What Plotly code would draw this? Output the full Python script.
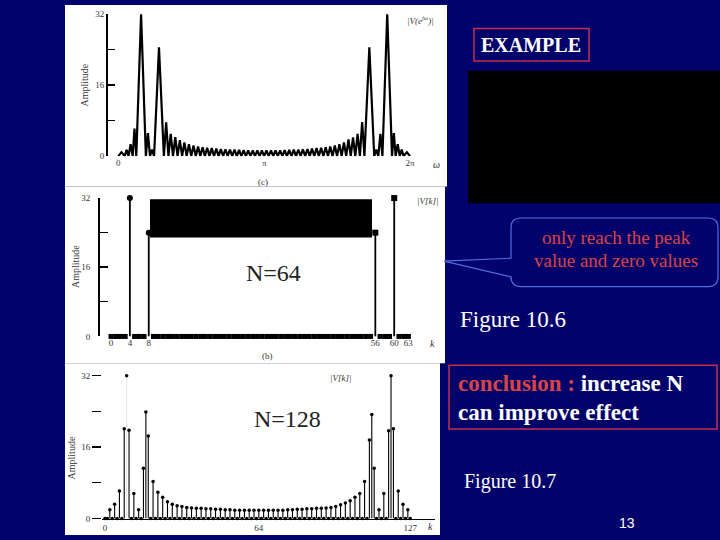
import plotly.graph_objects as go

W, H = 720, 540
def X(px): return px / W
def Y(py): return 1 - py / H

NAVY = "#02026a"
SERIF = "Liberation Serif"

# ---------------- data ----------------
# Panel (c): |V(e^jw)| drawn as lobes; frequency in units of 2*pi/64 (0..64 -> 0..2pi)
dtft_edges = [0, 1.4, 2.25, 3.15, 3.95, 6.05, 6.95, 7.85,
              10, 11, 12, 13, 14, 15, 16, 17, 18, 19, 20, 21, 22, 23, 24, 25, 26, 27,
              28, 29, 30, 31, 32, 33, 34, 35, 36, 37, 38, 39, 40, 41, 42, 43, 44, 45,
              46, 47, 48, 49, 50, 51, 52, 53, 54,
              56.15, 57.05, 57.95, 60.05, 60.85, 61.75, 62.6, 64]
dtft_heights = [0.9, 1.4, 2.7, 6.2, 32, 5.2, 1.5, 24.5,
                7.6, 5.0, 4.3, 3.6, 3.1, 2.7, 2.4, 2.2, 2.0, 1.9, 1.8, 1.7, 1.6, 1.55,
                1.5, 1.45, 1.4, 1.35, 1.3, 1.3, 1.3, 1.3,
                1.3, 1.3, 1.3, 1.3, 1.35, 1.4, 1.45, 1.5, 1.55, 1.6, 1.7, 1.8, 1.9, 2.0,
                2.2, 2.4, 2.7, 3.1, 3.8, 4.2, 5.0, 7.7,
                24.5, 1.5, 5.0, 32, 5.2, 2.7, 1.5, 0.9]
dtft_ticks = [0, 32, 64]
dtft_ticktext = ["0", "π", "2π"]

# Panel (b): 64-point DFT
n64 = 64
v64_peak_k = [4, 8, 56, 60]
v64_peak_val = [32, 24, 24, 32]
v64_ticks = [0, 4, 8, 56, 60, 63]

# Panel: 128-point DFT
v128 = [0, 0, 2.0, 0, 3.2, 0, 6.2, 0, 20.1, 32,
        19.8, 0, 5.6, 0, 2.0, 0, 11.3, 23.9, 18.5, 0,
        8.3, 0, 5.9, 0, 4.8, 0, 3.8, 0, 3.2, 0,
        2.9, 0, 2.7, 0, 2.5, 0, 2.4, 0, 2.3, 0,
        2.3, 0, 2.2, 0, 2.2, 0, 2.1, 0, 2.1, 0,
        2.0, 0, 2.0, 0, 1.9, 0, 1.9, 0, 1.9, 0,
        1.9, 0, 1.9, 0, 1.9, 0, 1.9, 0, 1.9, 0,
        1.9, 0, 1.9, 0, 1.9, 0, 2.0, 0, 2.0, 0,
        2.1, 0, 2.1, 0, 2.2, 0, 2.2, 0, 2.3, 0,
        2.3, 0, 2.4, 0, 2.5, 0, 2.7, 0, 3.1, 0,
        3.5, 0, 4.0, 0, 4.8, 0, 5.6, 0, 8.3, 0,
        17.6, 23.3, 11.3, 0, 2.0, 0, 5.6, 0, 19.7, 32,
        20.1, 0, 6.2, 0, 3.2, 0, 2.0, 0]
v128_ticks = [0, 64, 127]
amp_ticks = [0, 16, 32]

# ---------------- figure ----------------
fig = go.Figure()

# DTFT curve
cx, cy = [], []
for i, h in enumerate(dtft_heights):
    a, b = dtft_edges[i], dtft_edges[i + 1]
    cx += [a, (a + b) / 2]
    cy += [0, h]
cx.append(dtft_edges[-1]); cy.append(0)
fig.add_trace(go.Scatter(x=cx, y=cy, mode="lines", line=dict(color="black", width=2.2),
                         xaxis="x", yaxis="y", cliponaxis=False, hoverinfo="skip"))

# 64-point DFT
v64 = [0.0] * n64
for k, v in zip(v64_peak_k, v64_peak_val):
    v64[k] = v
sx, sy = [], []
for k, v in zip(v64_peak_k, v64_peak_val):
    sx += [k, k, None]; sy += [0, v, None]
fig.add_trace(go.Scatter(x=sx, y=sy, mode="lines", line=dict(color="black", width=1.8),
                         xaxis="x2", yaxis="y2", cliponaxis=False, hoverinfo="skip"))
zk = [k for k in range(n64) if v64[k] == 0]
fig.add_trace(go.Scatter(x=zk, y=[v64[k] for k in zk], mode="markers",
                         marker=dict(symbol="square", size=5, color="black"),
                         xaxis="x2", yaxis="y2", cliponaxis=False, hoverinfo="skip"))
fig.add_trace(go.Scatter(x=v64_peak_k, y=v64_peak_val, mode="markers",
                         marker=dict(symbol=["circle", "circle", "square", "square"], size=6, color="black"),
                         xaxis="x2", yaxis="y2", cliponaxis=False, hoverinfo="skip"))

# 128-point DFT
tx, ty = [], []
for k, v in enumerate(v128):
    if v > 0 and k != 9:
        tx += [k, k, None]; ty += [0, v, None]
fig.add_trace(go.Scatter(x=tx, y=ty, mode="lines", line=dict(color="black", width=1.1),
                         xaxis="x3", yaxis="y3", cliponaxis=False, hoverinfo="skip"))
fig.add_trace(go.Scatter(x=[9, 9], y=[0, v128[9]], mode="lines", line=dict(color="#e6e6e6", width=1),
                         xaxis="x3", yaxis="y3", cliponaxis=False, hoverinfo="skip"))
fig.add_trace(go.Scatter(x=list(range(len(v128))), y=v128, mode="markers",
                         marker=dict(symbol="circle", size=3.5, color="black"),
                         xaxis="x3", yaxis="y3", cliponaxis=False, hoverinfo="skip"))

tickfont = dict(family=SERIF, size=9, color="#333333")
common = dict(showgrid=False, zeroline=False, fixedrange=True)

fig.update_layout(
    width=W, height=H, margin=dict(l=0, r=0, t=0, b=0),
    paper_bgcolor=NAVY, plot_bgcolor="rgba(0,0,0,0)", showlegend=False,
    xaxis=dict(domain=[X(108), X(440)], range=[-2.26, 70.58], anchor="y",
               tickvals=dtft_ticks, ticktext=dtft_ticktext, ticks="", showline=False,
               tickfont=tickfont, **common),
    yaxis=dict(domain=[Y(154), Y(9.3)], range=[0, 32], anchor="x",
               showline=True, linecolor="black", linewidth=2,
               ticks="inside", ticklen=7, tickwidth=1.5, tickcolor="black",
               minor=dict(tick0=0, dtick=8, ticks="inside", ticklen=7, tickwidth=1.2, tickcolor="black"),
               tickvals=amp_ticks, tickfont=tickfont, **common),
    xaxis2=dict(domain=[X(100), X(440)], range=[-2.33, 69.7], anchor="y2",
                tickvals=v64_ticks, ticks="", showline=False, tickfont=tickfont, **common),
    yaxis2=dict(domain=[Y(337.7), Y(196.7)], range=[0, 32], anchor="x2",
                showline=True, linecolor="black", linewidth=2,
                ticks="inside", ticklen=8, tickwidth=1.5, tickcolor="black",
                minor=dict(tick0=0, dtick=8, ticks="inside", ticklen=8, tickwidth=1.2, tickcolor="black"),
                tickvals=amp_ticks, tickfont=tickfont,
                ticklabelstandoff=6, **common),
    xaxis3=dict(domain=[X(102), X(435)], range=[-1.25, 137.3], anchor="y3",
                tickvals=v128_ticks, ticks="", showline=True, linecolor="black", linewidth=1.5,
                tickfont=tickfont, **common),
    yaxis3=dict(domain=[Y(523.3), Y(377.7)], range=[0, 32], anchor="x3",
                showline=False, ticks="outside", ticklen=9, tickwidth=1.5, tickcolor="black",
                minor=dict(tick0=0, dtick=8, ticks="outside", ticklen=9, tickwidth=1.2, tickcolor="black"),
                tickvals=amp_ticks, tickfont=tickfont, **common),
)

def rect(x0, y0, x1, y1, fill=None, line=None, lw=0, layer="above"):
    return dict(type="rect", xref="paper", yref="paper",
                x0=X(x0), x1=X(x1), y0=Y(y1), y1=Y(y0),
                fillcolor=fill if fill else "rgba(0,0,0,0)",
                line=dict(color=line if line else "rgba(0,0,0,0)", width=lw), layer=layer)

def P(px, py):
    return f"{X(px):.5f},{Y(py):.5f}"

callout = ("M" + P(521, 217) + " L" + P(708, 217) + " Q" + P(718, 217) + " " + P(718, 227) +
           " L" + P(718, 277) + " Q" + P(718, 287) + " " + P(708, 287) +
           " L" + P(521, 287) + " Q" + P(511, 287) + " " + P(511, 277) +
           " L" + P(444, 261) + " L" + P(511, 258) +
           " L" + P(511, 227) + " Q" + P(511, 217) + " " + P(521, 217) + " Z")

shapes = [
    rect(65, 0, 447, 185, fill="white", layer="below"),
    rect(65, 185, 445, 365, fill="white", layer="below"),
    rect(65, 365, 440, 540, fill="white", layer="below"),
    rect(150, 198, 372, 237, fill="black"),
    rect(468, 67, 720, 202, fill="black"),
    rect(474, 24, 589, 57, line="#c03050", lw=1.5),
    rect(449, 367, 717, 432, line="#c03050", lw=1.5),
    dict(type="path", xref="paper", yref="paper", path=callout,
         line=dict(color="#4f6fe0", width=1.2), fillcolor="rgba(0,0,0,0)", layer="above"),
]
fig.update_layout(shapes=shapes)

def ann(px, py, text, size=10, color="#333333", family=SERIF, angle=0, xanchor="center"):
    return dict(x=X(px), y=Y(py), xref="paper", yref="paper", text=text, showarrow=False,
                font=dict(family=family, size=size, color=color), textangle=angle,
                xanchor=xanchor, yanchor="middle")

RED = "#d84444"
annotations = [
    # panel (c)
    ann(84, 82, "Amplitude", 10, angle=-90),
    ann(420, 15, "<i>|V(e<sup>jω</sup>)|</i>", 9),
    ann(437, 163, "<i>ω</i>", 10),
    ann(263, 180, "(c)", 9),
    # panel (b)
    ann(75, 267, "Amplitude", 10, angle=-90),
    ann(427, 200, "<i>|V[k]|</i>", 9),
    ann(432, 345, "<i>k</i>", 10),
    ann(267, 358, "(b)", 9),
    ann(273, 273, "N=64", 24, color="#222222"),
    # panel 128
    ann(71, 462, "Amplitude", 10, angle=-90),
    ann(340, 380, "<i>|V[k]|</i>", 9),
    ann(430, 531, "<i>k</i>", 10),
    ann(287, 422, "N=128", 24, color="#222222"),
    # right side text
    ann(531, 41, "<b>EXAMPLE</b>", 20, color="white"),
    ann(616, 237, "only reach the peak", 19, color=RED),
    ann(616, 260, "value and zero values", 19, color=RED),
    ann(458, 320, "Figure 10.6", 23, color="white", xanchor="left"),
    ann(456, 386, f"<b><span style='color:{RED}'>conclusion :</span> increase N</b>", 23,
        color="white", xanchor="left"),
    ann(456, 415, "<b>can improve effect</b>", 23, color="white", xanchor="left"),
    ann(462, 485, "Figure 10.7", 20, color="white", xanchor="left"),
    ann(627, 528, "13", 14, color="white", family="Liberation Sans"),
]
fig.update_layout(annotations=annotations)

fig.write_html("out.html", config={"displayModeBar": False, "staticPlot": True},
               post_script="document.body.style.margin='0';document.body.style.overflow='hidden';")
